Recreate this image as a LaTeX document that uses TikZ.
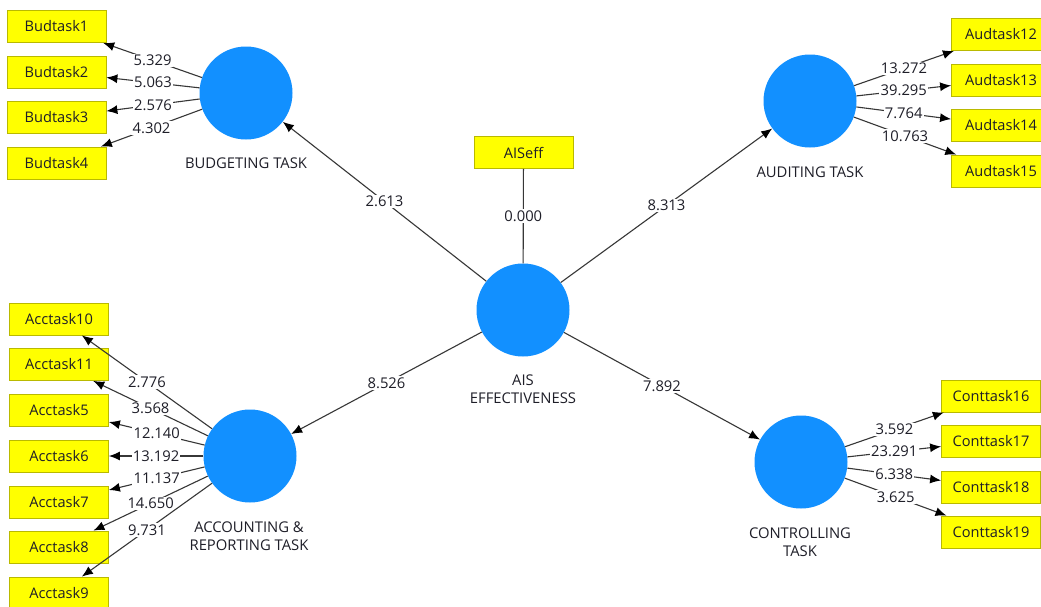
\documentclass[tikz,border=0pt]{standalone}
\usepackage{fontspec}
\setmainfont{Open Sans}
\usetikzlibrary{arrows.meta}
\definecolor{lvblue}{RGB}{18,144,255}
\definecolor{mvyellow}{RGB}{255,255,0}
\definecolor{mvborder}{RGB}{185,185,0}
\definecolor{linkgray}{RGB}{55,55,55}
\definecolor{textdark}{RGB}{30,30,40}
\begin{document}
\begin{tikzpicture}[x=1pt,y=-1pt,
  lvnode/.style={circle,fill=lvblue,minimum size=93pt,inner sep=0pt},
  mvbox/.style={rectangle,fill=mvyellow,draw=mvborder,line width=0.8pt,
    minimum width=99pt,minimum height=32pt,inner sep=0pt,text=textdark,
    font=\fontsize{14.6}{17}\selectfont},
  lvcaption/.style={align=center,text=textdark,font=\fontsize{14.8}{18}\selectfont},
  coef/.style={fill=white,inner sep=1.2pt,text=textdark,font=\fontsize{14.8}{16}\selectfont},
  loadline/.style={draw=linkgray,line width=1.1pt,-{Latex[length=11pt,width=9pt,color=black]}},
  plainline/.style={draw=linkgray,line width=1.1pt}]

\useasboundingbox[fill=white] (0,0) rectangle (1041,606);

% latent variables
\node[lvnode] (ais) at (523,310) {};
\node[lvnode] (bud) at (246,93) {};
\node[lvnode] (aud) at (810,101) {};
\node[lvnode] (acc) at (250,456) {};
\node[lvnode] (con) at (801,462) {};

% captions under the latent variables
\node[lvcaption] (aislbl) at (523,389) {AIS\\EFFECTIVENESS};
\node[lvcaption] (budlbl) at (246,163) {BUDGETING TASK};
\node[lvcaption] (audlbl) at (810,172) {AUDITING TASK};
\node[lvcaption] (acclbl) at (249,536) {ACCOUNTING \&\\REPORTING TASK};
\node[lvcaption] (conlbl) at (800,542) {CONTROLLING\\TASK};

% indicators
\node[mvbox] (aiseff) at (523.5,152.5) {AISeff};

\node[mvbox] (b1) at (56.5,26.5) {Budtask1};
\node[mvbox] (b2) at (56.5,72) {Budtask2};
\node[mvbox] (b3) at (56.5,117.5) {Budtask3};
\node[mvbox] (b4) at (56.5,163) {Budtask4};

\node[mvbox] (u12) at (1001,34.5) {Audtask12};
\node[mvbox] (u13) at (1001,80) {Audtask13};
\node[mvbox] (u14) at (1001,125.5) {Audtask14};
\node[mvbox] (u15) at (1001,171) {Audtask15};

\node[mvbox] (a10) at (59,319) {Acctask10};
\node[mvbox] (a11) at (59,364.5) {Acctask11};
\node[mvbox] (a5) at (59,410) {Acctask5};
\node[mvbox] (a6) at (59,456) {Acctask6};
\node[mvbox] (a7) at (59,502) {Acctask7};
\node[mvbox] (a8) at (59,547) {Acctask8};
\node[mvbox] (a9) at (59,593) {Acctask9};

\node[mvbox] (c16) at (991,396) {Conttask16};
\node[mvbox] (c17) at (991,441) {Conttask17};
\node[mvbox] (c18) at (991,487) {Conttask18};
\node[mvbox] (c19) at (991,532) {Conttask19};

% structural paths
\path[plainline] (aiseff) -- node[coef] {0.000} (ais);
\path[loadline] (ais) -- node[coef] {2.613} (bud);
\path[loadline] (ais) -- node[coef] {8.313} (aud);
\path[loadline] (ais) -- node[coef] {8.526} (acc);
\path[loadline] (ais) -- node[coef] {7.892} (con);

% outer loadings
\path[loadline] (bud) -- node[coef] {5.329} (b1);
\path[loadline] (bud) -- node[coef] {5.063} (b2);
\path[loadline] (bud) -- node[coef] {2.576} (b3);
\path[loadline] (bud) -- node[coef] {4.302} (b4);

\path[loadline] (aud) -- node[coef] {13.272} (u12);
\path[loadline] (aud) -- node[coef] {39.295} (u13);
\path[loadline] (aud) -- node[coef] {7.764} (u14);
\path[loadline] (aud) -- node[coef] {10.763} (u15);

\path[loadline] (acc) -- node[coef] {2.776} (a10);
\path[loadline] (acc) -- node[coef] {3.568} (a11);
\path[loadline] (acc) -- node[coef] {12.140} (a5);
\path[loadline] (acc) -- node[coef] {13.192} (a6);
\path[loadline] (acc) -- node[coef] {11.137} (a7);
\path[loadline] (acc) -- node[coef] {14.650} (a8);
\path[loadline] (acc) -- node[coef] {9.731} (a9);

\path[loadline] (con) -- node[coef] {3.592} (c16);
\path[loadline] (con) -- node[coef] {23.291} (c17);
\path[loadline] (con) -- node[coef] {6.338} (c18);
\path[loadline] (con) -- node[coef] {3.625} (c19);
\end{tikzpicture}
\end{document}
